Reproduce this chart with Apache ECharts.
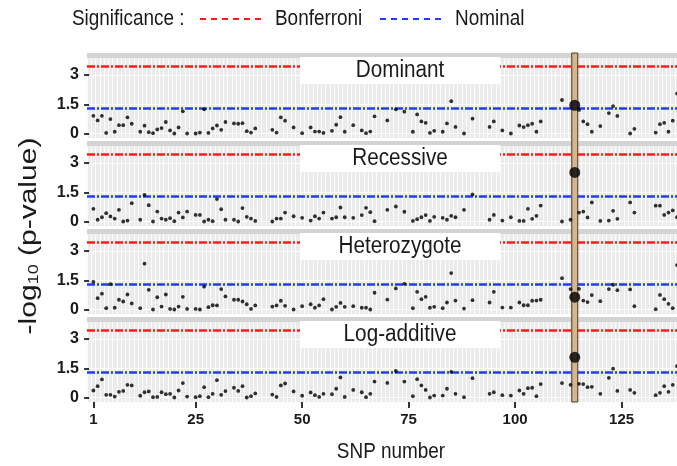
<!DOCTYPE html>
<html>
<head>
<meta charset="utf-8">
<style>
  html, body { margin: 0; padding: 0; background: #fff; }
  #main { width: 677px; height: 466px; }
</style>
<script src="https://cdn.jsdelivr.net/npm/echarts@6.0.0/dist/echarts.min.js"></script>
</head>
<body>
<div id="main"></div>
<script>
// -log10(p) per SNP (index 0 = SNP 1), null = no point drawn
const models = ['Dominant', 'Recessive', 'Heterozygote', 'Log-additive'];

const dominant = [
  0.91,0.67,0.91,0.03,0.74,0.09,0.43,0.43,0.83,0.50,
  null,0.09,0.40,0.07,0.02,0.21,0.28,0.59,0.16,0.00,
  0.31,1.14,0.00,null,0.00,0.05,1.24,0.03,0.26,0.41,
  0.19,0.59,null,0.52,0.50,0.53,0.12,0.05,0.26,null,
  null,null,0.19,0.05,0.83,0.66,null,0.31,null,0.02,
  null,0.31,0.10,0.10,0.03,null,0.14,0.45,0.84,0.09,
  null,0.43,null,0.16,0.02,0.10,0.88,null,null,0.67,
  null,1.24,null,1.12,null,0.09,0.98,0.62,0.55,0.03,
  0.14,null,0.09,0.52,1.66,0.34,null,0.00,null,0.76,
  null,null,null,0.34,0.62,null,0.16,null,0.00,null,
  0.41,0.33,0.43,0.50,0.09,0.62,null,null,null,null,
  1.72,null,null,null,1.21,0.62,0.48,0.09,null,0.38,
  null,1.05,1.41,0.90,null,null,0.00,0.24,null,null,
  null,null,0.05,0.48,0.55,0.09,0.66,2.05
];
const recessive = [
  0.65,0.09,0.22,0.43,0.26,0.15,0.60,0.00,0.05,0.94,
  null,0.09,1.37,0.84,0.00,0.51,0.15,0.09,0.17,0.02,
  0.46,0.21,0.51,null,0.34,0.34,0.00,0.09,0.02,1.15,
  0.63,0.09,null,0.09,0.00,0.69,0.24,0.15,0.03,null,
  null,null,0.00,0.15,0.15,0.46,null,0.27,null,0.19,
  null,0.05,0.27,0.15,0.46,null,0.15,0.22,0.72,0.22,
  null,0.19,null,0.33,0.70,0.48,0.02,null,null,0.60,
  null,0.77,null,0.50,null,0.03,0.12,0.22,0.33,0.03,
  0.24,null,0.19,0.09,0.29,0.22,null,0.60,null,1.39,
  null,null,null,0.09,0.34,null,0.05,null,0.22,null,
  0.03,0.03,0.65,0.14,0.29,0.82,null,null,null,null,
  0.00,null,0.09,null,0.46,0.51,0.21,0.98,null,0.03,
  null,0.05,0.55,0.14,null,null,0.98,0.46,null,null,
  null,null,0.81,0.81,0.34,0.46,0.57,0.22
];
const heterozygote = [
  1.42,0.58,0.81,0.07,1.30,0.09,0.50,0.41,0.77,0.31,
  null,0.07,2.35,1.01,0.00,0.63,0.15,0.77,0.03,0.00,
  0.15,0.65,0.03,null,0.03,0.00,1.17,0.12,0.22,0.21,
  1.05,0.67,null,0.50,0.50,0.41,0.27,0.03,0.21,null,
  null,null,0.15,0.21,0.45,0.19,null,0.00,null,0.17,
  null,0.27,0.09,0.21,0.53,null,0.00,0.14,0.34,0.14,
  null,0.17,null,0.09,0.09,0.00,0.86,null,null,0.51,
  null,1.08,null,1.32,null,0.07,0.91,0.53,0.65,0.09,
  0.14,null,0.07,0.36,1.87,0.46,null,0.05,null,0.48,
  null,null,null,0.36,0.91,null,0.10,null,0.10,null,
  0.36,0.22,0.22,0.45,0.46,0.50,null,null,null,null,
  1.61,null,1.05,null,1.06,0.46,0.38,0.74,null,0.43,
  null,1.05,1.27,0.99,null,null,1.03,0.17,null,null,
  null,null,0.02,0.75,0.53,0.29,0.07,2.28
];
const logAdditive = [
  0.36,0.58,0.93,0.14,0.14,0.05,0.29,0.34,0.65,0.62,
  null,0.09,0.27,0.31,0.02,0.03,0.27,0.17,0.19,0.00,
  0.36,0.74,0.05,null,0.02,0.07,0.53,0.02,0.19,0.89,
  0.14,0.33,null,0.50,0.34,0.58,0.00,0.07,0.21,null,
  null,null,0.15,0.03,0.62,0.72,null,0.31,null,0.09,
  null,0.26,0.12,0.03,0.19,null,0.17,0.45,1.03,0.03,
  null,0.39,null,0.27,0.02,0.19,0.82,null,null,0.75,
  null,1.36,null,0.82,null,0.07,0.94,0.62,0.39,0.00,
  0.10,null,0.10,0.45,1.32,0.19,null,0.02,null,0.99,
  null,null,null,0.19,0.27,null,0.12,null,0.10,null,
  0.36,0.19,0.48,0.50,0.07,0.69,null,null,null,null,
  0.74,null,0.65,null,0.70,0.69,0.53,0.55,null,0.19,
  null,1.01,1.48,0.34,null,null,0.39,0.24,null,null,
  null,null,0.12,0.24,0.58,0.29,0.65,1.61
];

// highlighted SNP and its value in each model
const highlightSnp = 114;
const highlightValues = [1.45, 2.52, 0.63, 2.06];

const bonferroni = 3.44;
const nominal = 1.3;
const xTicks = [1, 25, 50, 75, 100, 125];
const yTicks = [0, 1.5, 3];

const allValues = [dominant, recessive, heterozygote, logAdditive];

const sans = '"Liberation Sans", Arial, sans-serif';
const textColor = '#1a1a1a';
const redColor = '#ff1a1a';
const blueColor = '#1f3cff';
const squeeze = 0.86; // texts in the figure look horizontally squeezed

const panelTop = [53, 141, 229, 317];
const panelH = 85;
const panelLeft = 87;
const xMin = -0.5, xMax = 138;
const yMin = -0.23, yMax = 4.13;

const chart = echarts.init(document.getElementById('main'));

const grids = panelTop.map(t => ({
  left: panelLeft, right: 0, top: t, height: panelH,
  show: true, backgroundColor: '#EBEBEB', borderWidth: 0
}));

const xAxes = panelTop.map((t, k) => ({
  type: 'value', gridIndex: k, min: xMin, max: xMax, interval: 1,
  axisLine: { show: false }, axisTick: { show: false }, axisLabel: { show: false },
  splitLine: { show: true, lineStyle: { color: '#ffffff', width: 1, opacity: 0.85 } }
}));
// labelled axis under the last panel
xAxes.push({
  type: 'value', gridIndex: 3, min: xMin, max: xMax, position: 'bottom',
  axisLine: { show: false },
  axisTick: { show: true, customValues: xTicks, length: 6, lineStyle: { color: '#333', width: 2 } },
  axisLabel: { customValues: xTicks, margin: 10, fontFamily: sans, fontWeight: 'bold', fontSize: 15, color: textColor },
  splitLine: { show: false }
});

const yAxes = panelTop.map((t, k) => ({
  type: 'value', gridIndex: k, min: yMin, max: yMax,
  axisLine: { show: false },
  axisTick: { show: true, customValues: yTicks, length: 5, lineStyle: { color: '#333', width: 2 } },
  axisLabel: { customValues: yTicks, margin: 8, fontFamily: sans, fontWeight: 'bold', fontSize: 16, color: textColor,
               formatter: v => String(v) },
  splitLine: { show: true, lineStyle: { color: '#ffffff', width: 1.2 } }
}));

const series = [];
allValues.forEach((vals, k) => {
  const pts = [];
  vals.forEach((v, i) => { if (v !== null) pts.push([i + 1, v]); });
  series.push({
    type: 'scatter', xAxisIndex: k, yAxisIndex: k, data: pts,
    symbolSize: 3.8, itemStyle: { color: '#000' }, z: 8, silent: true,
    markLine: {
      silent: true, symbol: ['none', 'none'], z: 2, label: { show: false },
      data: [
        { yAxis: bonferroni, lineStyle: { color: redColor, type: [8, 2, 2, 2], width: 2.5 } },
        { yAxis: nominal, lineStyle: { color: blueColor, type: [8, 2, 2, 2], width: 2.5 } }
      ]
    }
  });
  series.push({
    type: 'scatter', xAxisIndex: k, yAxisIndex: k,
    data: [[highlightSnp, highlightValues[k]]],
    symbolSize: 11, itemStyle: { color: '#000' }, z: 9, silent: true
  });
});

chart.setOption({
  animation: false,
  grid: grids,
  xAxis: xAxes,
  yAxis: yAxes,
  series: series
});

// decorations: strips, panel labels, legend, titles, highlight bar
const graphic = [];
panelTop.forEach((t, k) => {
  graphic.push({
    id: 'strip' + k, type: 'rect', z: 1, silent: true,
    shape: { x: panelLeft, y: t, width: 677 - panelLeft, height: 5 },
    style: { fill: '#D4D4D4' }
  });
  graphic.push({
    id: 'box' + k, type: 'rect', z: 7, silent: true,
    shape: { x: 300, y: t + 4, width: 200, height: 27 },
    style: { fill: '#ffffff' }
  });
  graphic.push({
    id: 'lab' + k, type: 'text', z: 7, silent: true,
    x: 400, y: t + 17.5, scaleX: 0.9,
    style: { text: models[k], fontFamily: sans, fontSize: 23, fill: textColor,
             align: 'center', verticalAlign: 'middle' }
  });
});

// legend
function legendText(id, x, text) {
  return { id: id, type: 'text', x: x, y: 19, z: 7, scaleX: squeeze,
    style: { text: text, fontFamily: sans, fontSize: 22, fill: textColor, verticalAlign: 'middle' } };
}
graphic.push(legendText('sig', 72, 'Significance :'));
graphic.push({ id: 'legR', type: 'line', z: 7,
  shape: { x1: 200, y1: 19, x2: 263, y2: 19 },
  style: { stroke: redColor, lineWidth: 2, lineDash: [6, 5] } });
graphic.push(legendText('bon', 275, 'Bonferroni'));
graphic.push({ id: 'legB', type: 'line', z: 7,
  shape: { x1: 380, y1: 19, x2: 444, y2: 19 },
  style: { stroke: blueColor, lineWidth: 2, lineDash: [6, 5] } });
graphic.push(legendText('nom', 455, 'Nominal'));

// axis titles
graphic.push({ id: 'ytitle', type: 'text', x: 29, y: 236, rotation: Math.PI / 2, scaleY: 0.8, z: 7,
  style: { text: '-log{s|10} (p-value)', fontFamily: sans, fontSize: 30,
           fill: textColor, align: 'center', verticalAlign: 'middle',
           rich: { s: { fontSize: 18, fontFamily: sans, fill: textColor, verticalAlign: 'bottom' } } } });
graphic.push({ id: 'xtitle', type: 'text', x: 391, y: 452, z: 7, scaleX: squeeze,
  style: { text: 'SNP number', fontFamily: sans, fontSize: 22, fill: textColor, align: 'center', verticalAlign: 'middle' } });

// highlight bar at the chosen SNP, placed through the x scale
const hx = chart.convertToPixel({ xAxisIndex: 0, yAxisIndex: 0 }, [highlightSnp, 0])[0];
graphic.push({ id: 'hl', type: 'rect', z: 6, silent: true,
  shape: { x: hx - 3, y: panelTop[0], width: 6, height: panelTop[3] + panelH - panelTop[0] },
  style: { fill: '#D6B58C', stroke: '#4a3a26', lineWidth: 1 } });

chart.setOption({ graphic: graphic });

window.addEventListener('resize', function () { chart.resize(); });
</script>
</body>
</html>
